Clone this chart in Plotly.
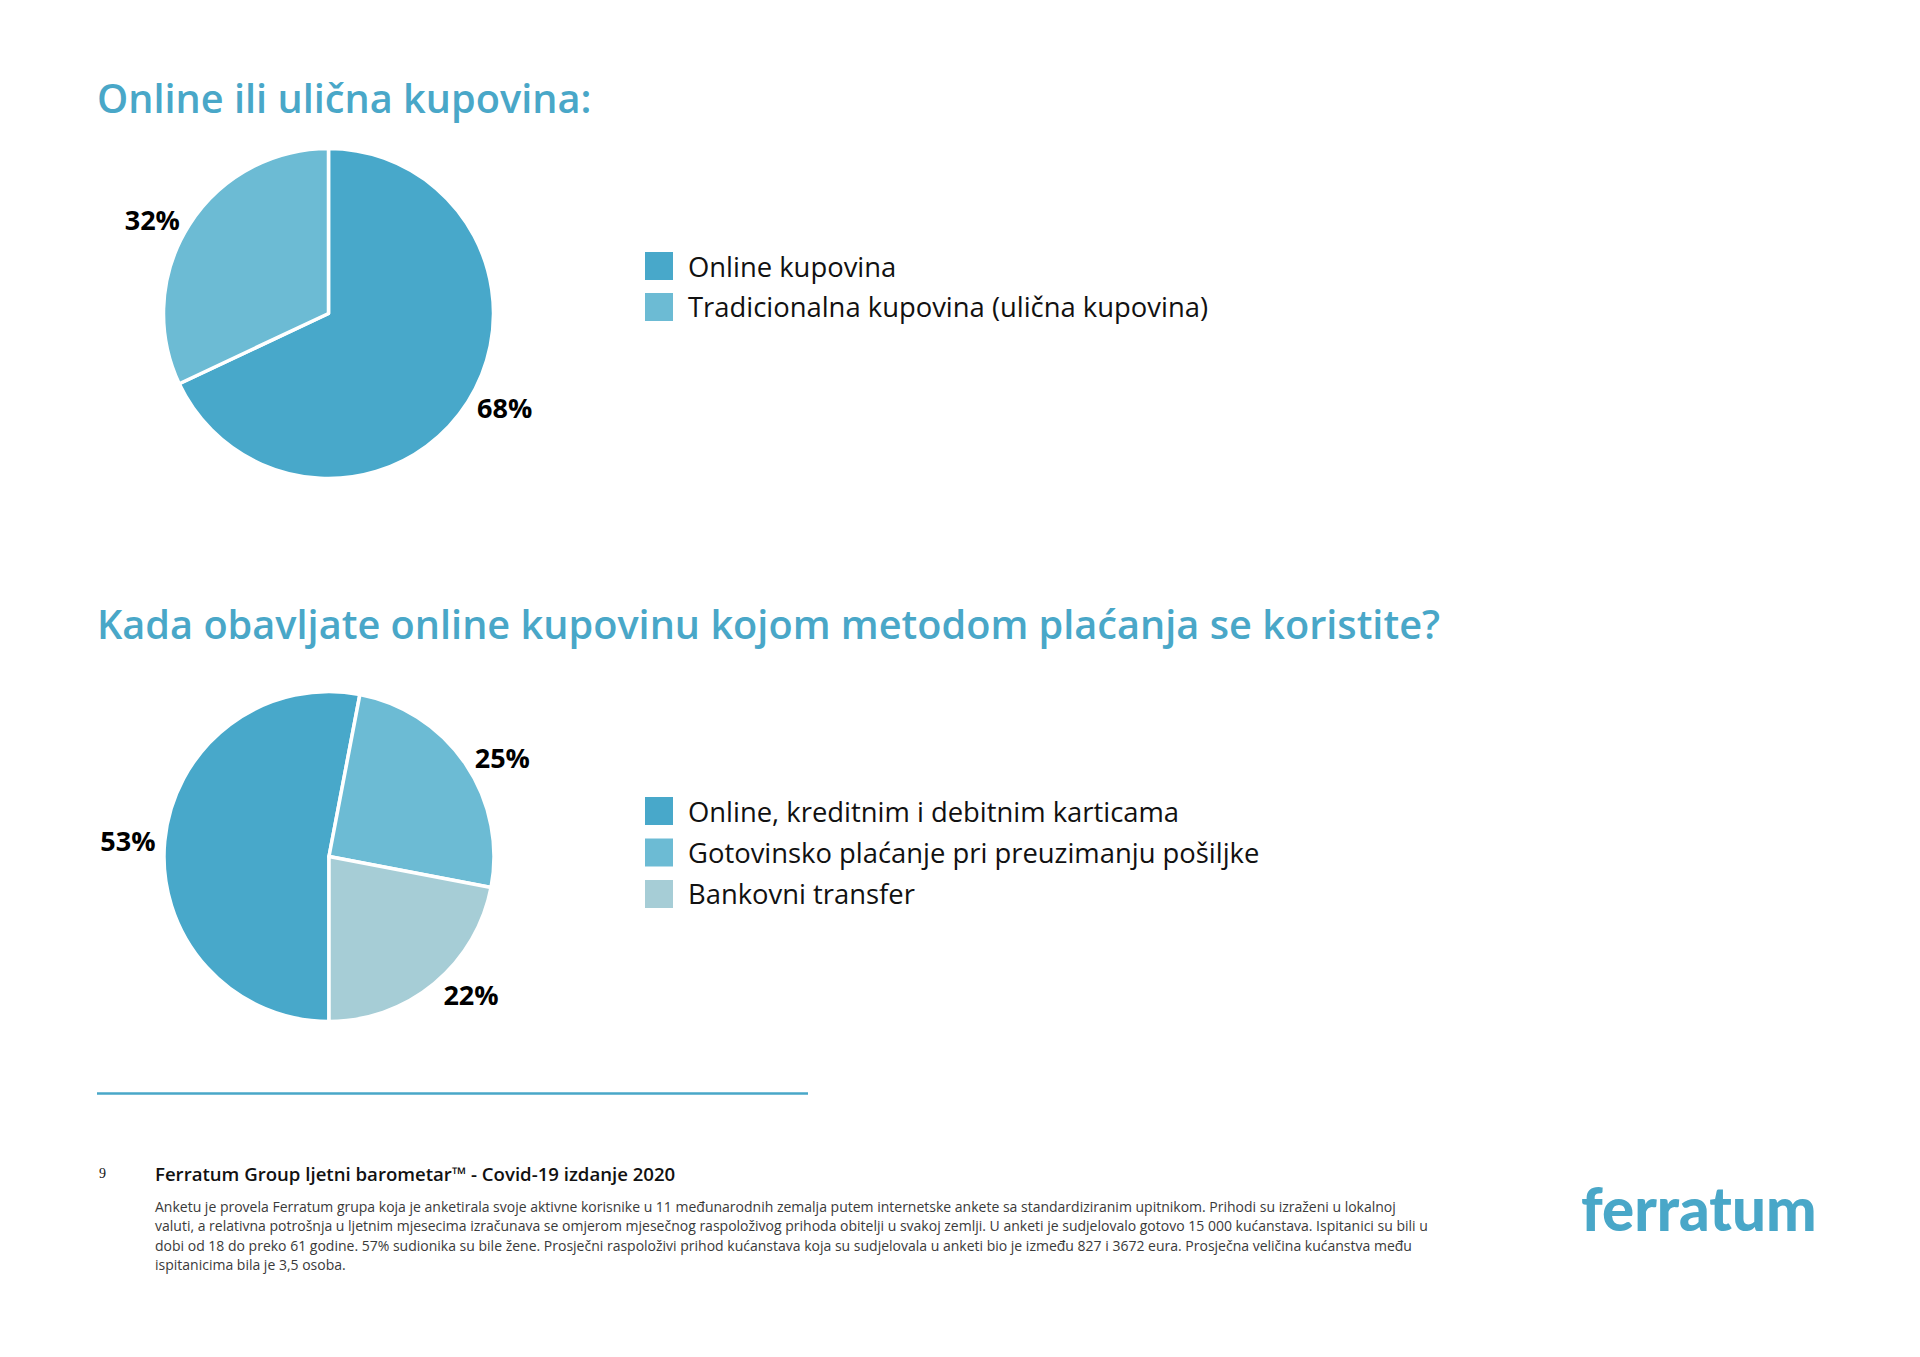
import plotly.graph_objects as go

# page (browser body has an 8px margin)
OFF = 8
W, H = 1920 - 2 * OFF, 1357 - 2 * OFF

# ---- data ----
title1 = "Online ili ulična kupovina:"
labels1 = ["Online kupovina", "Tradicionalna kupovina (ulična kupovina)"]
values1 = [68, 32]

title2 = "Kada obavljate online kupovinu kojom metodom plaćanja se koristite?"
labels2 = ["Online, kreditnim i debitnim karticama",
           "Gotovinsko plaćanje pri preuzimanju pošiljke",
           "Bankovni transfer"]
values2 = [53, 25, 22]

colors1 = ["#48A8CA", "#6CBBD4"]
colors2 = ["#48A8CA", "#6CBBD4", "#A6CDD6"]

footer_title = "Ferratum Group ljetni barometar™ - Covid-19 izdanje 2020"
page_no = "9"
footnote_lines = [
    "Anketu je provela Ferratum grupa koja je anketirala svoje aktivne korisnike u 11 međunarodnih zemalja putem internetske ankete sa standardiziranim upitnikom. Prihodi su izraženi u lokalnoj",
    "valuti, a relativna potrošnja u ljetnim mjesecima izračunava se omjerom mjesečnog raspoloživog prihoda obitelji u svakoj zemlji. U anketi je sudjelovalo gotovo 15 000 kućanstava. Ispitanici su bili u",
    "dobi od 18 do preko 61 godine. 57% sudionika su bile žene. Prosječni raspoloživi prihod kućanstava koja su sudjelovala u anketi bio je između 827 i 3672 eura. Prosječna veličina kućanstva među",
    "ispitanicima bila je 3,5 osoba.",
]
logo_text = "ferratum"

ACCENT = "#49A7C8"


def px(x):
    return (x - OFF) / W


def py(y):
    return 1 - (y - OFF) / H


def domain(cx, cy, r):
    return dict(x=[px(cx - r), px(cx + r)], y=[py(cy + r), py(cy - r)])


fig = go.Figure()

pie_common = dict(
    sort=False,
    direction="clockwise",
    texttemplate="%{value}%",
    textposition="outside",
    outsidetextfont=dict(family="Open Sans", size=27, color="#000000", weight="bold"),
    showlegend=False,
    hoverinfo="label+percent",
)

fig.add_trace(go.Pie(
    labels=labels1, values=values1, rotation=0,
    marker=dict(colors=colors1, line=dict(color="white", width=3.5)),
    domain=domain(328.5, 313.5, 165), **pie_common))

fig.add_trace(go.Pie(
    labels=labels2, values=values2, rotation=180,
    marker=dict(colors=colors2, line=dict(color="white", width=3.5)),
    domain=domain(329, 856.5, 165), **pie_common))

annotations = []
shapes = []

# titles
title_font = dict(family="Open Sans", size=39.7, color=ACCENT, weight=600)
annotations.append(dict(text=title1, x=px(95), y=py(98), xref="paper", yref="paper",
                        xanchor="left", yanchor="middle", showarrow=False, font=title_font))
annotations.append(dict(text=title2, x=px(95), y=py(624), xref="paper", yref="paper",
                        xanchor="left", yanchor="middle", showarrow=False, font=title_font))


# manual legends
def add_legend(labels, colors, y0, step):
    for i, (lab, col) in enumerate(zip(labels, colors)):
        yc = y0 + i * step
        shapes.append(dict(type="rect", xref="paper", yref="paper",
                           x0=px(645), x1=px(673), y0=py(yc + 14), y1=py(yc - 14),
                           fillcolor=col, line=dict(width=0)))
        annotations.append(dict(text=lab, x=px(686), y=py(yc), xref="paper", yref="paper",
                                xanchor="left", yanchor="middle", showarrow=False,
                                font=dict(family="Open Sans", size=27.4, color="#111111")))


add_legend(labels1, colors1, 266, 41)
add_legend(labels2, colors2, 811, 41.5)

# divider line
shapes.append(dict(type="line", xref="paper", yref="paper",
                   x0=px(97), x1=px(808), y0=py(1093.5), y1=py(1093.5),
                   line=dict(color=ACCENT, width=2.5)))

# footer
annotations.append(dict(text=page_no, x=px(97), y=py(1173), xref="paper", yref="paper",
                        xanchor="left", yanchor="middle", showarrow=False,
                        font=dict(family="Liberation Serif", size=14, color="#111111")))
annotations.append(dict(text=footer_title, x=px(153), y=py(1173), xref="paper", yref="paper",
                        xanchor="left", yanchor="middle", showarrow=False,
                        font=dict(family="Open Sans", size=18.6, color="#111111", weight=600)))
for i, line in enumerate(footnote_lines):
    annotations.append(dict(text=line, x=px(153), y=py(1206 + i * 19.6), xref="paper", yref="paper",
                            xanchor="left", yanchor="middle", showarrow=False,
                            font=dict(family="Open Sans", size=14, color="#3a3a3a")))

# logo
annotations.append(dict(text=logo_text, x=px(1699), y=py(1208), xref="paper", yref="paper",
                        xanchor="center", yanchor="middle", showarrow=False,
                        font=dict(family="Lato", size=60, color=ACCENT, weight=900)))

fig.update_layout(
    width=W, height=H,
    margin=dict(l=0, r=0, t=0, b=0),
    paper_bgcolor="white", plot_bgcolor="white",
    annotations=annotations, shapes=shapes,
)

fig.write_html("out.html")
